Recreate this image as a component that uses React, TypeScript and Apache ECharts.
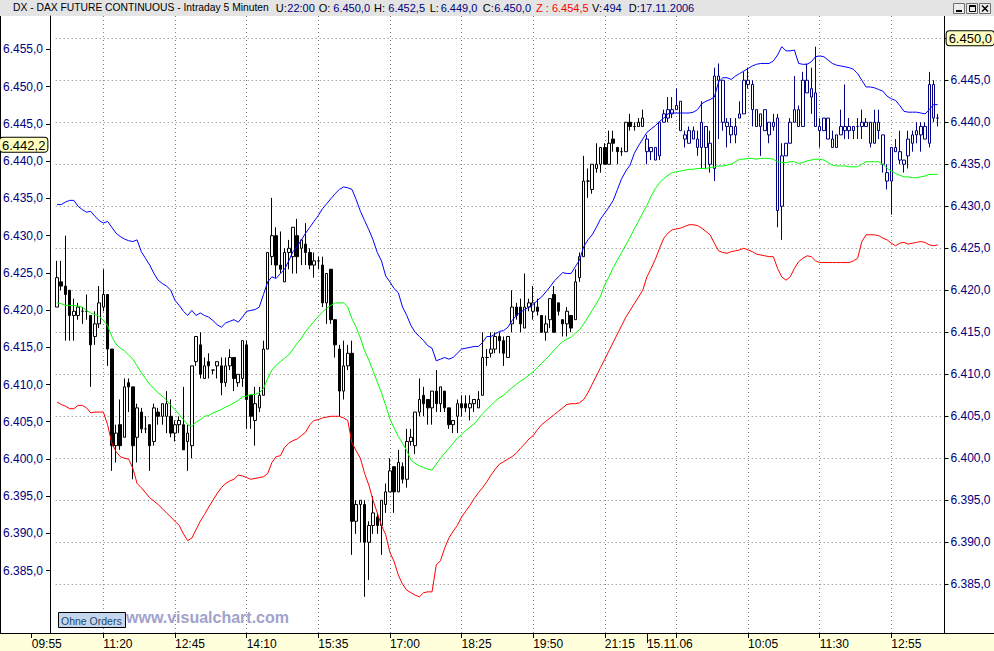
import { useEffect, useRef } from 'react';
import * as echarts from 'echarts';

const FONT = 'Arial, "Liberation Sans", Helvetica, sans-serif';
const NAVY = '#000080';
const DOT = '#808080';

// Handelszeiten der beiden Tage (5-Minuten-Kerzen)
const SESSIONS: Array<[string, string]> = [
  ['09:55', '22:00'],
  ['08:05', '13:55'],
];
const DAY2_DATE = '15.11.06';
const FIRST_BAR = 6; // erste sichtbare Kerze: 10:25
const TICK_EVERY = 17; // alle 85 Minuten ein Strich

const RIGHT_TICKS = [6385, 6390, 6395, 6400, 6405, 6410, 6415, 6420, 6425, 6430, 6435, 6440, 6445, 6450];
const LEFT_TICKS = [6385, 6390, 6395, 6400, 6405, 6410, 6415, 6420, 6425, 6430, 6435, 6440, 6445, 6450, 6455];
const LAST_RIGHT = 6450.0;
const LAST_LEFT = 6442.2;

// Kopfzeile
const TITLE_TEXT = 'DX - DAX FUTURE CONTINUOUS - Intraday 5 Minuten';
const HEADER_LABELS = ['U:', 'O:', 'H:', 'L:', 'C:', 'V:', 'D:'];
const HEADER_VALUES = ['22:00', '6.450,0', '6.452,5', '6.449,0', '6.450,0', '494', '17.11.2006'];
const HEADER_Z = 'Z : 6.454,5';

// [open, high, low, close] – Tag 1 (10:25 .. 22:00)
const DAY1_CANDLES = [
  [6418.0, 6423.5, 6418.0, 6421.5], [6421.0, 6423.5, 6420.0, 6420.5], [6420.5, 6426.5, 6414.0, 6419.5], [6420.0, 6420.0, 6414.0, 6417.0], [6417.0, 6419.0, 6414.0, 6417.5], [6417.0, 6418.5, 6416.5, 6418.0], [6417.5, 6418.0, 6416.0, 6417.5], [6417.5, 6419.5, 6416.5, 6417.5], [6417.0, 6417.0, 6408.5, 6413.5], [6414.5, 6417.5, 6413.5, 6416.0],
  [6416.0, 6420.5, 6415.5, 6418.5], [6418.0, 6422.5, 6417.5, 6419.5], [6419.5, 6419.5, 6411.0, 6413.0], [6413.0, 6413.0, 6398.5, 6401.5], [6401.5, 6404.0, 6399.5, 6403.0], [6404.0, 6407.0, 6401.0, 6401.5], [6402.5, 6409.5, 6402.5, 6408.5], [6409.0, 6409.5, 6405.5, 6408.5], [6408.5, 6408.5, 6397.5, 6401.5], [6402.5, 6406.5, 6399.5, 6406.0],
  [6405.5, 6406.0, 6403.0, 6403.5], [6403.5, 6405.0, 6403.0, 6403.5], [6404.0, 6404.0, 6398.5, 6401.5], [6402.0, 6406.5, 6401.5, 6406.0], [6405.5, 6406.0, 6404.0, 6405.0], [6405.0, 6406.5, 6404.0, 6406.5], [6405.0, 6408.0, 6403.0, 6406.5], [6405.0, 6407.0, 6402.5, 6403.0], [6403.0, 6404.5, 6402.0, 6404.0], [6404.0, 6405.0, 6403.0, 6404.5],
  [6404.0, 6408.5, 6401.0, 6401.0], [6402.0, 6404.0, 6398.5, 6403.0], [6401.5, 6411.0, 6400.0, 6411.0], [6411.5, 6414.5, 6411.0, 6414.5], [6413.5, 6415.0, 6409.5, 6410.0], [6409.5, 6412.0, 6409.5, 6411.0], [6411.5, 6412.5, 6409.5, 6411.0], [6410.5, 6410.5, 6410.0, 6410.5], [6411.0, 6411.5, 6409.5, 6411.5], [6411.0, 6412.0, 6407.5, 6409.0],
  [6409.0, 6412.0, 6408.5, 6411.0], [6411.0, 6413.0, 6410.5, 6412.0], [6412.0, 6412.0, 6408.0, 6409.5], [6409.0, 6410.0, 6408.5, 6410.0], [6409.5, 6414.0, 6408.5, 6414.0], [6413.5, 6414.0, 6403.5, 6407.0], [6407.5, 6407.5, 6403.5, 6405.0], [6404.5, 6408.5, 6401.5, 6406.5], [6406.0, 6408.5, 6405.5, 6407.5], [6407.5, 6414.0, 6407.5, 6413.0],
  [6413.0, 6424.5, 6413.0, 6424.5], [6424.0, 6431.0, 6423.0, 6426.5], [6426.5, 6427.5, 6421.5, 6423.0], [6423.0, 6427.0, 6422.0, 6422.5], [6421.0, 6425.0, 6421.0, 6424.5], [6424.5, 6426.0, 6422.5, 6425.0], [6424.0, 6427.5, 6422.0, 6427.5], [6426.5, 6428.5, 6422.0, 6424.0], [6425.0, 6426.0, 6423.0, 6426.0], [6425.5, 6428.0, 6423.0, 6424.5],
  [6424.5, 6425.0, 6422.5, 6423.0], [6423.0, 6424.5, 6421.5, 6423.5], [6423.5, 6424.0, 6422.5, 6423.5], [6423.0, 6424.0, 6418.0, 6418.5], [6418.5, 6422.0, 6416.0, 6422.0], [6422.5, 6422.5, 6416.0, 6416.5], [6416.5, 6416.5, 6412.0, 6413.5], [6413.0, 6413.5, 6405.0, 6408.0], [6408.0, 6414.0, 6407.0, 6411.0], [6411.0, 6413.5, 6410.5, 6412.5],
  [6412.5, 6414.0, 6388.5, 6392.5], [6392.5, 6395.0, 6391.0, 6394.5], [6394.5, 6395.0, 6390.0, 6395.0], [6394.5, 6395.0, 6383.5, 6390.0], [6390.0, 6392.5, 6385.5, 6392.0], [6392.0, 6395.5, 6391.0, 6393.5], [6393.0, 6393.5, 6391.0, 6392.0], [6392.0, 6395.0, 6388.5, 6395.0], [6394.5, 6397.0, 6393.5, 6396.0], [6396.0, 6400.0, 6396.0, 6398.5],
  [6399.0, 6399.0, 6393.5, 6396.0], [6396.0, 6401.0, 6396.0, 6399.5], [6399.0, 6399.5, 6397.0, 6397.5], [6397.5, 6403.5, 6396.5, 6402.0], [6402.0, 6403.5, 6401.5, 6402.5], [6401.5, 6405.5, 6400.5, 6405.5], [6405.5, 6409.5, 6405.0, 6407.0], [6407.5, 6408.5, 6405.0, 6406.5], [6407.0, 6407.0, 6404.0, 6406.0], [6406.0, 6408.0, 6404.0, 6408.0],
  [6408.0, 6410.5, 6405.5, 6406.5], [6406.5, 6408.5, 6405.5, 6408.5], [6408.0, 6408.0, 6405.5, 6406.0], [6406.0, 6406.0, 6403.5, 6404.0], [6404.0, 6404.5, 6403.0, 6404.5], [6405.0, 6407.0, 6403.0, 6406.5], [6406.5, 6407.5, 6405.0, 6406.0], [6406.5, 6407.5, 6405.5, 6406.0], [6406.0, 6407.5, 6404.5, 6406.5], [6406.5, 6407.0, 6405.5, 6407.0],
  [6406.0, 6408.0, 6406.0, 6407.0], [6407.5, 6415.0, 6407.5, 6412.0], [6412.0, 6413.0, 6411.0, 6412.0], [6412.5, 6415.0, 6412.0, 6413.0], [6413.0, 6415.0, 6412.5, 6414.5], [6414.5, 6415.0, 6412.5, 6414.0], [6414.0, 6414.5, 6411.0, 6412.5], [6412.0, 6414.5, 6412.0, 6414.5], [6416.0, 6420.0, 6415.0, 6418.0], [6418.0, 6418.5, 6416.5, 6417.0],
  [6418.0, 6419.0, 6415.0, 6416.0], [6415.5, 6422.0, 6415.5, 6418.0], [6418.0, 6419.0, 6417.5, 6418.5], [6417.5, 6420.5, 6416.5, 6418.5], [6418.0, 6419.0, 6417.0, 6417.5], [6417.0, 6417.0, 6415.0, 6415.0], [6415.0, 6417.0, 6414.0, 6416.0], [6416.5, 6419.0, 6415.5, 6419.0], [6419.5, 6420.5, 6415.0, 6415.0], [6418.5, 6418.5, 6417.0, 6417.5],
  [6416.5, 6416.5, 6414.5, 6416.0], [6416.0, 6418.0, 6414.5, 6417.5], [6417.0, 6417.0, 6415.0, 6415.5], [6416.5, 6422.5, 6416.5, 6421.0], [6421.5, 6424.5, 6421.0, 6424.0], [6424.0, 6436.0, 6424.0, 6433.0], [6433.0, 6434.5, 6431.0, 6433.0], [6432.0, 6435.0, 6431.5, 6435.0], [6434.5, 6437.5, 6434.0, 6435.0], [6435.0, 6437.0, 6434.0, 6437.0],
  [6437.0, 6437.5, 6435.0, 6435.0], [6435.0, 6439.0, 6435.0, 6437.5], [6438.0, 6439.0, 6436.5, 6437.5], [6437.0, 6437.0, 6435.0, 6436.5], [6436.5, 6437.0, 6436.0, 6436.5], [6436.5, 6440.0, 6436.5, 6440.0], [6440.0, 6441.0, 6439.0, 6439.5], [6439.5, 6440.0, 6439.0, 6439.5], [6439.5, 6440.5, 6439.5, 6440.0], [6439.5, 6441.5, 6439.5, 6440.5],
];

// [open, high, low, close] – Tag 2 (08:05 .. 13:50)
const DAY2_CANDLES = [
  [6438.0, 6438.5, 6435.0, 6436.5], [6436.5, 6437.0, 6435.5, 6437.0], [6437.0, 6437.0, 6435.5, 6435.5], [6436.0, 6440.0, 6435.5, 6440.0], [6440.0, 6441.5, 6440.0, 6441.0], [6440.5, 6443.0, 6440.0, 6441.5], [6441.0, 6443.0, 6440.5, 6441.5], [6441.5, 6444.0, 6441.5, 6442.0], [6442.5, 6442.5, 6439.0, 6439.0], [6438.5, 6439.0, 6437.0, 6438.0],
  [6437.5, 6439.5, 6437.5, 6439.0], [6439.0, 6439.5, 6438.0, 6438.0], [6438.0, 6439.0, 6436.0, 6437.0], [6437.0, 6442.5, 6434.5, 6440.0], [6439.5, 6439.5, 6434.5, 6437.0], [6437.5, 6439.0, 6434.0, 6435.0], [6434.5, 6446.5, 6433.0, 6445.5], [6445.5, 6447.0, 6438.0, 6445.0], [6445.0, 6445.0, 6439.0, 6440.0], [6440.0, 6440.5, 6437.0, 6439.5],
  [6439.5, 6440.5, 6437.5, 6438.5], [6438.5, 6440.5, 6437.5, 6439.5], [6440.5, 6442.5, 6440.5, 6441.0], [6441.0, 6446.0, 6441.0, 6445.0], [6444.5, 6446.5, 6444.0, 6445.0], [6444.5, 6445.0, 6439.5, 6441.5], [6441.5, 6441.5, 6439.5, 6439.5], [6439.5, 6441.0, 6436.0, 6441.0], [6441.5, 6441.5, 6439.0, 6439.0], [6438.5, 6440.0, 6437.5, 6440.0],
  [6439.5, 6441.0, 6439.0, 6440.0], [6440.5, 6441.0, 6427.5, 6429.5], [6430.0, 6437.5, 6426.0, 6436.0], [6436.0, 6437.5, 6436.0, 6437.5], [6437.5, 6440.5, 6437.5, 6440.0], [6440.0, 6445.5, 6440.0, 6441.5], [6441.5, 6442.0, 6439.5, 6439.5], [6439.5, 6446.0, 6439.5, 6445.0], [6445.0, 6447.0, 6443.5, 6443.5], [6444.0, 6446.5, 6441.0, 6443.0],
  [6443.5, 6449.0, 6439.5, 6439.5], [6439.5, 6440.5, 6437.0, 6439.0], [6439.0, 6440.5, 6439.0, 6440.5], [6440.5, 6440.5, 6438.0, 6438.0], [6438.0, 6439.0, 6437.0, 6437.0], [6437.0, 6438.5, 6437.0, 6438.5], [6438.5, 6441.5, 6438.5, 6439.5], [6439.5, 6444.5, 6438.0, 6439.0], [6439.5, 6440.5, 6438.0, 6439.0], [6439.0, 6439.5, 6438.0, 6439.5],
  [6439.5, 6440.5, 6438.0, 6439.5], [6439.5, 6441.5, 6438.0, 6440.0], [6439.5, 6440.5, 6439.5, 6440.0], [6440.0, 6440.0, 6437.0, 6437.5], [6437.5, 6441.5, 6437.5, 6440.0], [6440.0, 6441.5, 6438.0, 6439.0], [6438.5, 6438.5, 6434.0, 6435.0], [6434.0, 6435.0, 6432.0, 6433.0], [6433.0, 6437.0, 6429.0, 6437.0], [6437.0, 6438.0, 6436.5, 6436.5],
  [6436.5, 6439.0, 6435.0, 6435.5], [6435.0, 6435.5, 6434.0, 6435.5], [6436.0, 6439.0, 6434.5, 6438.0], [6437.5, 6439.0, 6436.5, 6438.5], [6438.5, 6440.0, 6437.5, 6439.0], [6438.5, 6440.0, 6436.5, 6439.5], [6439.5, 6440.0, 6438.0, 6438.0], [6437.5, 6446.0, 6437.0, 6444.5], [6444.5, 6445.0, 6440.0, 6440.5], [6440.5, 6441.0, 6439.5, 6440.5],
];

// Bollinger-Bänder, ab Kerze 10:25
const UPPER_BAND = [
  6430.2, 6430.2, 6430.5, 6430.7, 6430.7, 6430.0, 6429.6, 6429.3, 6429.4, 6428.8,
  6428.3, 6428.0, 6428.2, 6427.5, 6426.8, 6426.4, 6426.1, 6425.9, 6425.8, 6426.0,
  6424.6, 6423.8, 6423.0, 6422.0, 6421.2, 6420.8, 6420.5, 6420.0, 6418.8, 6418.2,
  6417.5, 6417.0, 6417.6, 6417.0, 6417.3, 6417.0, 6416.8, 6416.4, 6415.9, 6415.6,
  6416.1, 6416.3, 6416.5, 6416.2, 6416.8, 6417.5, 6417.6, 6417.7, 6418.0, 6419.5,
  6421.0, 6421.6, 6421.4, 6422.0, 6422.5, 6423.5, 6424.6, 6425.2, 6426.0, 6426.8,
  6427.5, 6428.2, 6428.9, 6429.7, 6430.3, 6430.9, 6431.5, 6432.0, 6432.3, 6432.2,
  6432.0, 6430.8, 6429.4, 6428.3, 6427.2, 6426.0, 6424.5, 6423.5, 6421.7, 6421.0,
  6420.2, 6419.7, 6418.0, 6417.0, 6415.8, 6415.0, 6414.5, 6414.0, 6413.4, 6413.1,
  6411.6, 6411.8, 6412.0, 6411.8, 6412.0, 6412.5, 6413.0, 6413.1, 6413.2, 6413.3,
  6413.3, 6413.8, 6414.5, 6414.5, 6414.8, 6415.1, 6415.2, 6415.6, 6416.4, 6417.0,
  6417.4, 6417.7, 6418.0, 6418.3, 6418.8, 6419.2, 6419.8, 6420.4, 6421.1, 6421.6,
  6422.1, 6422.0, 6422.0, 6422.8, 6423.6, 6425.2, 6426.0, 6426.6, 6427.5, 6428.5,
  6429.2, 6429.9, 6430.7, 6432.0, 6433.3, 6434.2, 6434.9, 6436.3, 6437.2, 6438.0,
  6438.8, 6439.2, 6439.6, 6440.1, 6440.5, 6441.0, 6441.1, 6441.1, 6441.1, 6441.1,
  6441.1, 6441.2, 6441.5, 6442.2, 6442.5, 6442.7, 6443.0, 6444.8, 6445.3, 6445.3,
  6445.1, 6445.5, 6445.8, 6446.1, 6446.4, 6446.7, 6446.9, 6447.0, 6447.0, 6447.0,
  6447.3, 6448.0, 6449.0, 6448.5, 6448.5, 6448.6, 6447.0, 6446.9, 6446.9, 6447.2,
  6447.8, 6447.9, 6447.8, 6447.4, 6447.0, 6446.8, 6446.7, 6446.6, 6446.5, 6446.3,
  6445.8, 6445.0, 6444.2, 6444.2, 6444.1, 6443.9, 6443.7, 6443.1, 6442.8, 6442.6,
  6442.0, 6441.3, 6441.2, 6441.2, 6441.2, 6441.1, 6441.0, 6441.5, 6442.1, 6442.1,
];

const MIDDLE_BAND = [
  6418.5, 6418.4, 6418.2, 6418.2, 6418.2, 6418.1, 6418.0, 6417.6, 6417.3, 6417.1,
  6416.9, 6416.4, 6415.8, 6414.5, 6413.6, 6413.1, 6412.8, 6412.3, 6411.8, 6411.0,
  6410.2, 6409.5, 6408.8, 6408.3, 6407.8, 6407.4, 6406.9, 6406.3, 6405.8, 6405.2,
  6404.6, 6404.0, 6403.8, 6404.3, 6404.6, 6405.0, 6405.1, 6405.4, 6405.6, 6405.8,
  6406.1, 6406.3, 6406.6, 6406.9, 6407.3, 6407.4, 6407.6, 6407.6, 6407.8, 6408.3,
  6409.5, 6410.5, 6411.1, 6411.5, 6411.9, 6412.3, 6413.0, 6413.7, 6414.3, 6415.1,
  6415.7, 6416.3, 6416.9, 6417.4, 6417.9, 6418.2, 6418.5, 6418.5, 6418.5, 6418.0,
  6416.6, 6415.6, 6414.3, 6412.8, 6411.7, 6410.4, 6409.1, 6407.8, 6406.3, 6404.7,
  6403.6, 6402.6, 6401.8, 6400.9, 6399.8, 6399.4, 6399.1, 6398.9, 6398.7, 6398.6,
  6399.3, 6400.0, 6400.6, 6401.2, 6401.8, 6402.4, 6402.8, 6403.3, 6403.7, 6404.1,
  6404.7, 6405.3, 6405.8, 6406.3, 6406.8, 6407.2, 6407.5, 6408.0, 6408.4, 6408.8,
  6409.2, 6409.5, 6409.9, 6410.3, 6410.8, 6411.3, 6411.8, 6412.3, 6412.9, 6413.4,
  6413.9, 6414.2, 6414.4, 6414.9, 6415.3, 6416.0, 6416.8, 6417.6, 6418.4, 6419.3,
  6420.7, 6421.6, 6422.7, 6423.6, 6424.5, 6425.4, 6426.3, 6427.3, 6428.2, 6429.2,
  6430.1, 6431.2, 6432.1, 6432.8, 6433.3, 6433.7, 6434.0, 6434.1, 6434.2, 6434.3,
  6434.4, 6434.4, 6434.5, 6434.5, 6434.5, 6434.6, 6434.7, 6434.8, 6434.8, 6434.9,
  6435.0, 6435.3, 6435.6, 6435.6, 6435.7, 6435.7, 6435.6, 6435.7, 6435.7, 6435.7,
  6435.6, 6435.3, 6435.2, 6435.2, 6435.3, 6435.3, 6435.1, 6435.2, 6435.4, 6435.5,
  6435.6, 6435.6, 6435.5, 6435.2, 6434.9, 6434.8, 6434.8, 6434.8, 6434.7, 6434.7,
  6434.7, 6435.0, 6435.3, 6435.3, 6435.3, 6435.3, 6435.0, 6434.5, 6434.2, 6433.9,
  6433.7, 6433.5, 6433.5, 6433.4, 6433.4, 6433.5, 6433.6, 6433.8, 6433.8, 6433.8,
];

const LOWER_BAND = [
  6406.7, 6406.4, 6406.2, 6405.9, 6405.9, 6406.3, 6406.3, 6406.0, 6405.4, 6405.5,
  6405.5, 6405.5, 6404.0, 6401.8, 6400.8, 6400.2, 6400.0, 6399.9, 6398.8, 6397.0,
  6396.5, 6395.9, 6395.3, 6394.9, 6394.5, 6394.0, 6393.5, 6393.0, 6392.5, 6392.0,
  6391.0, 6390.2, 6390.5, 6391.5, 6392.5, 6393.3, 6394.2, 6395.0, 6395.8, 6396.5,
  6397.0, 6397.3, 6397.5, 6398.0, 6397.9, 6397.7, 6397.5, 6397.6, 6397.7, 6397.8,
  6398.2, 6399.5, 6400.2, 6400.3, 6401.3, 6401.8, 6402.1, 6402.3, 6402.7, 6403.1,
  6404.0, 6404.5, 6404.6, 6404.8, 6404.9, 6405.0, 6405.0, 6405.0, 6404.8, 6404.5,
  6401.8, 6400.9, 6400.0, 6398.2, 6396.8, 6395.0, 6393.5, 6392.0, 6390.9, 6388.8,
  6387.7, 6386.1, 6385.0, 6384.3, 6384.0, 6383.7, 6383.5, 6384.0, 6384.1, 6384.1,
  6387.3, 6387.8, 6389.3, 6390.5, 6391.3, 6392.0, 6393.0, 6393.7, 6394.4, 6395.2,
  6395.9, 6396.5, 6397.2, 6398.0, 6398.7, 6399.3, 6399.6, 6399.9, 6400.2, 6400.6,
  6401.2, 6401.7, 6402.3, 6402.7, 6403.4, 6404.0, 6404.4, 6404.8, 6405.2, 6405.6,
  6406.0, 6406.4, 6406.5, 6406.5, 6406.6, 6407.0, 6407.8, 6408.8, 6409.8, 6410.8,
  6411.8, 6412.8, 6413.8, 6414.8, 6415.8, 6416.8, 6417.6, 6418.4, 6419.2, 6420.0,
  6421.6, 6422.6, 6423.7, 6425.0, 6426.2, 6426.8, 6427.2, 6427.3, 6427.4, 6427.6,
  6427.8, 6427.8, 6427.7, 6427.4, 6427.0, 6426.6, 6425.6, 6424.7, 6424.5, 6424.4,
  6424.6, 6424.7, 6424.8, 6425.0, 6424.8, 6424.6, 6424.3, 6424.2, 6424.1, 6424.0,
  6424.0, 6422.6, 6421.6, 6421.2, 6421.6, 6422.6, 6423.4, 6423.8, 6424.1, 6424.0,
  6423.5, 6423.3, 6423.3, 6423.3, 6423.3, 6423.3, 6423.3, 6423.3, 6423.3, 6423.5,
  6423.8, 6425.8, 6426.6, 6426.6, 6426.6, 6426.5, 6426.2, 6426.0, 6425.6, 6425.3,
  6425.6, 6425.7, 6425.5, 6425.6, 6425.7, 6425.8, 6425.7, 6425.4, 6425.3, 6425.4,
];

const pad2 = (n: number) => String(n).padStart(2, '0');

function timeRange(from: string, to: string): string[] {
  const toMin = (s: string) => {
    const [h, m] = s.split(':').map(Number);
    return h * 60 + m;
  };
  const out: string[] = [];
  for (let t = toMin(from); t <= toMin(to); t += 5) {
    out.push(`${pad2(Math.floor(t / 60))}:${pad2(t % 60)}`);
  }
  return out;
}

// 6450 -> "6.450,0"
function fmtPrice(v: number): string {
  const [int, dec] = Number(v).toFixed(1).split('.');
  return `${int.slice(0, -3)}.${int.slice(-3)},${dec}`;
}

function buildOption(): echarts.EChartsOption {
  const day1 = timeRange(...SESSIONS[0]);
  const categories = [...day1, ...timeRange(...SESSIONS[1])];
  const day2Index = day1.length;
  const allCandles = [...DAY1_CANDLES, ...DAY2_CANDLES];

  const candleData = categories.map((_, i) => {
    const c = allCandles[i - FIRST_BAR];
    if (!c) return ['-', '-', '-', '-'];
    const [o, h, l, cl] = c;
    const item: Record<string, unknown> = { value: [o, cl, l, h] };
    if (i >= day2Index) {
      item.itemStyle = {
        color: '#ffffff',
        color0: NAVY,
        borderColor: NAVY,
        borderColor0: NAVY,
        borderColorDoji: NAVY,
      };
    }
    return item;
  });

  const band = (arr: number[]) => categories.map((_, i) => arr[i - FIRST_BAR] ?? null);

  const isTick = (i: number) => i % TICK_EVERY === 0;
  const isLabel = (i: number) =>
    i === day2Index || (isTick(i) && !(i > day2Index && i - day2Index < 12));

  const pointer = (value: number, margin: number) => ({
    show: true,
    type: 'line',
    snap: false,
    status: 'show',
    value,
    triggerTooltip: false,
    lineStyle: { opacity: 0 },
    label: {
      show: true,
      formatter: (p: { value: number }) => fmtPrice(p.value),
      backgroundColor: '#ffffc0',
      borderColor: '#000000',
      borderWidth: 1,
      color: '#000000',
      fontSize: 13,
      fontFamily: FONT,
      padding: [1, 2, 0, 2],
      margin,
    },
  });

  const headerLabelX = [275.7, 318.7, 374, 429.7, 482.7, 592, 628.7];
  const headerValueX = [287.3, 333.3, 388.3, 440.7, 494.3, 603.3, 640];
  const headerText = (text: string, x: number, fill: string, size = 11) => ({
    type: 'text',
    x,
    y: 7.5,
    z: 20,
    style: { text, fill, fontSize: size, fontFamily: FONT, verticalAlign: 'middle' },
  });

  const buttonX = [953, 966, 979];

  const graphic: any[] = [
    { type: 'rect', z: 5, shape: { x: 0, y: 0, width: 994, height: 16 }, style: { fill: '#e4e4e4' } },
    headerText(TITLE_TEXT, 13, '#000000', 10.3),
    ...HEADER_LABELS.slice(0, 5).map((t, i) => headerText(t, headerLabelX[i], '#000000')),
    ...HEADER_VALUES.slice(0, 5).map((t, i) => headerText(t, headerValueX[i], NAVY)),
    headerText(HEADER_Z, 536, '#ff0000'),
    ...HEADER_LABELS.slice(5).map((t, i) => headerText(t, headerLabelX[i + 5], '#000000')),
    ...HEADER_VALUES.slice(5).map((t, i) => headerText(t, headerValueX[i + 5], NAVY)),
    ...buttonX.map((x) => ({
      type: 'rect',
      z: 20,
      shape: { x: x + 0.5, y: 3.5, width: 11, height: 10 },
      style: { fill: '#ececec', stroke: '#707070', lineWidth: 1 },
    })),
    { type: 'line', z: 21, shape: { x1: 956, y1: 11, x2: 962, y2: 11 }, style: { stroke: '#000', lineWidth: 2 } },
    { type: 'rect', z: 21, shape: { x: 969.5, y: 5.5, width: 6, height: 6 }, style: { fill: 'none', stroke: '#000', lineWidth: 1 } },
    { type: 'line', z: 21, shape: { x1: 969.5, y1: 6, x2: 975.5, y2: 6 }, style: { stroke: '#000', lineWidth: 2 } },
    { type: 'line', z: 21, shape: { x1: 982, y1: 5.5, x2: 988, y2: 11.5 }, style: { stroke: '#000', lineWidth: 1.5 } },
    { type: 'line', z: 21, shape: { x1: 988, y1: 5.5, x2: 982, y2: 11.5 }, style: { stroke: '#000', lineWidth: 1.5 } },
    // linke Skalenfläche
    { type: 'rect', z: 5, shape: { x: 0, y: 16, width: 54, height: 617 }, style: { fill: '#ffffff' } },
    { type: 'line', z: 6, shape: { x1: 0.5, y1: 16, x2: 0.5, y2: 633 }, style: { stroke: '#000', lineWidth: 1 } },
    // Zeitleiste unten
    { type: 'rect', z: 5, shape: { x: 0, y: 633, width: 994, height: 18 }, style: { fill: '#ffffdc' } },
    { type: 'line', z: 6, shape: { x1: 0, y1: 633.5, x2: 994, y2: 633.5 }, style: { stroke: '#000', lineWidth: 1 } },
    // Wasserzeichen und Schaltfläche
    {
      type: 'text',
      z: 6,
      x: 126,
      y: 617,
      style: {
        text: 'www.visualchart.com',
        fill: '#a2a2cc',
        fontSize: 16,
        fontWeight: 'bold',
        fontFamily: FONT,
        verticalAlign: 'middle',
      },
    },
    { type: 'rect', z: 7, shape: { x: 58.5, y: 612.5, width: 67, height: 15 }, style: { fill: '#c6d6ef', stroke: '#000', lineWidth: 1 } },
    {
      type: 'text',
      z: 8,
      x: 61,
      y: 620.5,
      style: { text: 'Ohne Orders', fill: '#1c4966', fontSize: 10.5, fontFamily: FONT, verticalAlign: 'middle' },
    },
  ];

  const axisFont = { fontSize: 12, fontFamily: FONT };

  return {
    animation: false,
    backgroundColor: '#ffffff',
    textStyle: { fontFamily: FONT },
    grid: { left: 31, right: 52.1, top: 16, bottom: 18 },
    xAxis: [
      {
        type: 'category',
        data: categories,
        boundaryGap: false,
        axisLine: { show: false, onZero: false },
        axisTick: { show: false },
        axisLabel: { show: false },
        splitLine: { show: true, interval: (i: number) => isTick(i), lineStyle: { color: DOT, type: [1, 3], width: 1 } },
      },
      {
        type: 'category',
        data: categories,
        boundaryGap: false,
        position: 'bottom',
        z: 10,
        axisLine: { show: false, onZero: false },
        axisTick: { show: true, interval: (i: number) => isTick(i), length: 5, lineStyle: { color: '#000' } },
        axisLabel: {
          interval: (i: number) => isLabel(i),
          formatter: (v: string, i: number) => (i === day2Index ? DAY2_DATE : v),
          align: 'left',
          margin: 5,
          color: '#000000',
          ...axisFont,
        },
        splitLine: { show: false },
      },
      {
        type: 'category',
        data: categories,
        boundaryGap: false,
        position: 'bottom',
        z: 10,
        axisLine: { show: false, onZero: false },
        axisTick: { show: true, interval: (i: number) => i === day2Index, length: 10, lineStyle: { color: '#000' } },
        axisLabel: { show: false },
        splitLine: { show: false },
      },
    ],
    yAxis: [
      {
        type: 'value',
        position: 'right',
        offset: 2.6,
        min: 6379.2,
        max: 6452.65,
        minInterval: 5,
        maxInterval: 5,
        splitNumber: 14,
        axisLine: { show: true, lineStyle: { color: '#000' } },
        axisTick: { show: true, length: 4, customValues: RIGHT_TICKS, lineStyle: { color: '#000' } },
        axisLabel: { customValues: RIGHT_TICKS, formatter: (v: number) => fmtPrice(v), color: NAVY, margin: 6, ...axisFont },
        splitLine: { show: true, lineStyle: { color: DOT, type: [1, 3], width: 1 } },
        axisPointer: pointer(LAST_RIGHT, 9),
      },
      {
        type: 'value',
        position: 'left',
        offset: -18.3,
        min: 6376.64,
        max: 6459.47,
        minInterval: 5,
        maxInterval: 5,
        splitNumber: 16,
        z: 10,
        axisLine: { show: true, lineStyle: { color: '#000' } },
        axisTick: { show: true, length: 4, customValues: LEFT_TICKS, lineStyle: { color: '#000' } },
        axisLabel: { customValues: LEFT_TICKS, formatter: (v: number) => fmtPrice(v), color: NAVY, margin: 7, ...axisFont },
        splitLine: { show: false },
        axisPointer: pointer(LAST_LEFT, 12),
      },
    ],
    graphic,
    series: [
      {
        name: 'DAX Future',
        type: 'candlestick',
        data: candleData as any,
        barWidth: 3,
        z: 2,
        itemStyle: {
          color: '#ffffff',
          color0: '#000000',
          borderColor: '#000000',
          borderColor0: '#000000',
          borderColorDoji: '#000000',
          borderWidth: 1,
        },
      },
      {
        name: 'Oberes Band',
        type: 'line',
        data: band(UPPER_BAND),
        symbol: 'none',
        z: 3,
        lineStyle: { color: '#0000ff', width: 1 },
        itemStyle: { color: '#0000ff' },
      },
      {
        name: 'Mitte',
        type: 'line',
        data: band(MIDDLE_BAND),
        symbol: 'none',
        z: 3,
        lineStyle: { color: '#00ff00', width: 1 },
        itemStyle: { color: '#00ff00' },
      },
      {
        name: 'Unteres Band',
        type: 'line',
        data: band(LOWER_BAND),
        symbol: 'none',
        z: 3,
        lineStyle: { color: '#ff0000', width: 1 },
        itemStyle: { color: '#ff0000' },
      },
    ],
  } as echarts.EChartsOption;
}

export default function App() {
  const chartRef = useRef<HTMLDivElement>(null);

  useEffect(() => {
    document.body.style.margin = '0';
    if (!chartRef.current) return;
    const chart = echarts.init(chartRef.current, undefined, { renderer: 'svg' });
    chart.setOption(buildOption());
    return () => {
      chart.dispose();
    };
  }, []);

  return <div ref={chartRef} style={{ width: 994, height: 651 }} />;
}
